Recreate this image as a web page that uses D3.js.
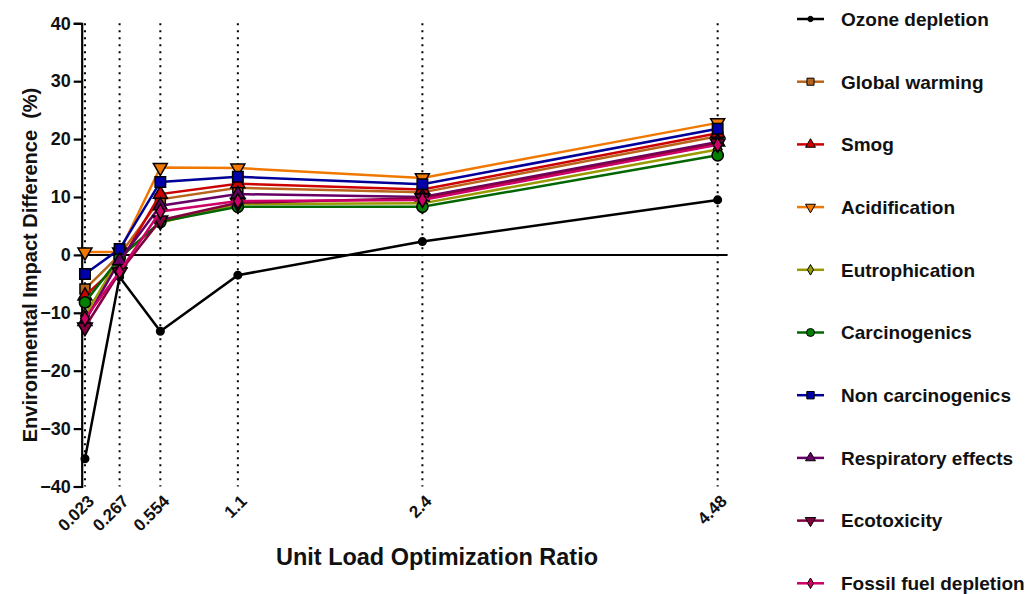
<!DOCTYPE html>
<html><head><meta charset="utf-8">
<script src="https://cdn.jsdelivr.net/npm/d3@7"></script>
<style>body{margin:0;background:#fff;} svg{display:block;}</style>
</head><body>
<svg id="c" width="1032" height="594"></svg>
<script>
const ratios = [0.023, 0.267, 0.554, 1.1, 2.4, 4.48];
const tickLabels = ["0.023", "0.267", "0.554", "1.1", "2.4", "4.48"];
const yTicks = [-40, -30, -20, -10, 0, 10, 20, 30, 40];
const seriesNames = ["Ozone depletion","Global warming","Smog","Acidification","Eutrophication","Carcinogenics","Non carcinogenics","Respiratory effects","Ecotoxicity","Fossil fuel depletion"];
const ozone = [-35.2, -3.8, -13.2, -3.5, 2.3, 9.5];
const globalWarming = [-5.9, 0.0, 9.6, 11.6, 10.8, 20.5];
const smog = [-7.1, -1.5, 10.5, 12.3, 11.3, 21.0];
const acidification = [0.5, 0.5, 15.1, 15.0, 13.3, 22.8];
const eutrophication = [-10.5, -0.5, 5.6, 8.8, 8.9, 18.2];
const carcinogenics = [-8.2, -0.5, 5.7, 8.3, 8.3, 17.2];
const nonCarcinogenics = [-3.3, 1.0, 12.6, 13.5, 12.2, 21.8];
const respiratory = [-11.5, -1.0, 8.5, 10.5, 10.0, 19.5];
const ecotoxicity = [-12.5, -3.0, 6.0, 9.0, 9.8, 19.3];
const fossilFuel = [-11.0, -2.9, 7.5, 9.3, 9.5, 19.0];
const seriesValues = [ozone, globalWarming, smog, acidification, eutrophication, carcinogenics, nonCarcinogenics, respiratory, ecotoxicity, fossilFuel];
const lineColors = ["#000000","#b8651b","#cc0000","#f07800","#999900","#006600","#000099","#660066","#800040","#cc0066"];
const fillColors = ["#000000","#b8651b","#cc0000","#f07800","#999900","#008000","#0000aa","#660066","#800040","#cc0066"];
const symbolTypes = [d3.symbolCircle, d3.symbolSquare, d3.symbolTriangle, "down", d3.symbolDiamond, d3.symbolCircle, d3.symbolSquare, d3.symbolTriangle, "down", d3.symbolDiamond];
const symbolSizes = [45, 100, 85, 85, 65, 100, 110, 85, 95, 65];

const svg = d3.select("#c");
const font = "'Liberation Sans', Arial, sans-serif";
const x = d3.scaleLinear().domain([0, 4.55]).range([81.7, 727.6]);
const y = d3.scaleLinear().domain([-40, 40]).range([486.5, 23.3]);

// vertical dotted lines
svg.append("g").selectAll("line").data(ratios).join("line")
  .attr("x1", d => x(d)).attr("x2", d => x(d))
  .attr("y1", y(40)).attr("y2", y(-40))
  .attr("stroke", "#000").attr("stroke-width", 2)
  .attr("stroke-dasharray", "2,5");

// zero line
svg.append("line").attr("x1", x(0)).attr("x2", x(4.55))
  .attr("y1", y(0)).attr("y2", y(0)).attr("stroke", "#000").attr("stroke-width", 2);

// y axis
const yAxis = svg.append("g").attr("transform", `translate(${x(0)},0)`)
  .call(d3.axisLeft(y).tickValues(yTicks).tickSize(8).tickPadding(3));
yAxis.select(".domain").attr("stroke-width", 2.2);
yAxis.selectAll(".tick line").attr("stroke-width", 2.2);
yAxis.selectAll("text").attr("font-family", font).attr("font-weight", "bold")
  .attr("font-size", 18).attr("fill", "#111");

// x tick labels (rotated)
svg.append("g").selectAll("text").data(ratios).join("text")
  .attr("transform", (d) => `translate(${x(d) + 6},${498}) rotate(-45)`)
  .attr("text-anchor", "end").attr("dy", "0.35em")
  .attr("font-family", font).attr("font-weight", "bold").attr("font-size", 17).attr("fill", "#111")
  .text((d, i) => tickLabels[i]);

// axis titles
svg.append("text").attr("x", 437).attr("y", 565).attr("text-anchor", "middle")
  .attr("font-family", font)
  .attr("font-weight", "bold").attr("font-size", 23).attr("fill", "#111")
  .attr("textLength", 322).attr("lengthAdjust", "spacingAndGlyphs")
  .text("Unit Load Optimization Ratio");
svg.append("text").attr("transform", "translate(37,265) rotate(-90)").attr("text-anchor", "middle")
  .attr("font-family", font).attr("font-weight", "bold").attr("font-size", 20).attr("fill", "#111")
  .attr("xml:space", "preserve")
  .text("Environmental Impact Difference  (%)");

function symPath(i, k) {
  const t = symbolTypes[i] === "down" ? d3.symbolTriangle : symbolTypes[i];
  return d3.symbol(t, symbolSizes[i] * k)();
}
function symRot(i) { return symbolTypes[i] === "down" ? " rotate(180)" : ""; }

const line = d3.line().x((d, j) => x(ratios[j])).y(d => y(d));
seriesValues.forEach((vals, i) => {
  const g = svg.append("g");
  g.append("path").datum(vals).attr("d", line).attr("fill", "none")
    .attr("stroke", lineColors[i]).attr("stroke-width", 2.5);
  g.selectAll("path.m").data(vals).join("path").attr("class", "m")
    .attr("transform", (d, j) => `translate(${x(ratios[j])},${y(d)})` + symRot(i))
    .attr("d", symPath(i, 1)).attr("fill", fillColors[i])
    .attr("stroke", "#000").attr("stroke-width", 1.5);
});

// legend
const leg = svg.append("g");
seriesNames.forEach((name, i) => {
  const ly = 19 + i * 62.7;
  leg.append("line").attr("x1", 797).attr("x2", 824).attr("y1", ly).attr("y2", ly)
    .attr("stroke", lineColors[i]).attr("stroke-width", 2.5);
  leg.append("path").attr("transform", `translate(810.5,${ly})` + symRot(i))
    .attr("d", symPath(i, 0.5))
    .attr("fill", fillColors[i]).attr("stroke", "#000").attr("stroke-width", 1);
  leg.append("text").attr("x", 841).attr("y", ly).attr("dy", "0.36em")
    .attr("font-family", font).attr("font-weight", "bold").attr("font-size", 19)
    .attr("fill", "#111").text(name);
});
</script>
</body></html>
